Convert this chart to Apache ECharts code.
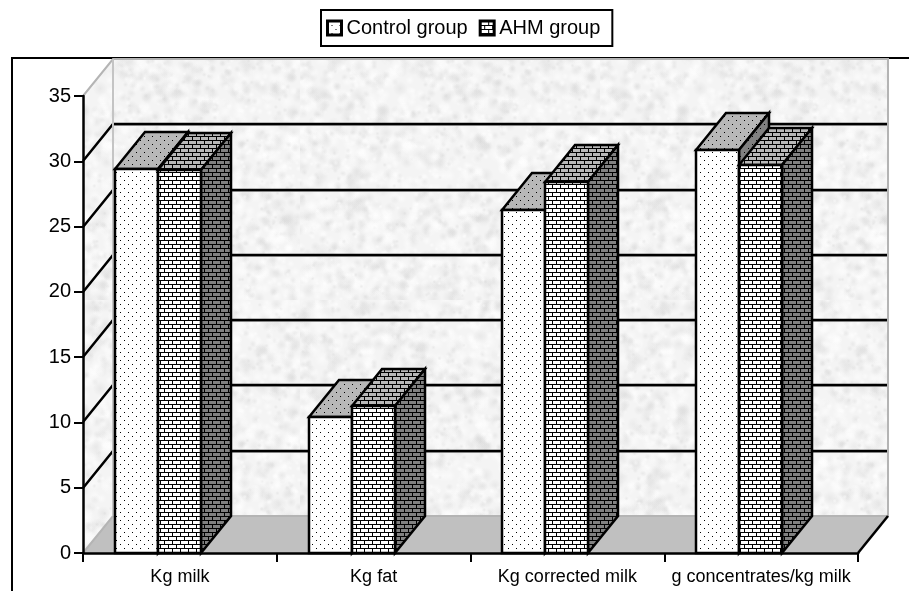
<!DOCTYPE html>
<html>
<head>
    <meta charset="utf-8" />
    <title>Chart</title>
    <script src="https://cdn.jsdelivr.net/npm/echarts@6/dist/echarts.min.js"></script>
    <style type="text/css">
        html, body { margin: 0; padding: 0; background: #fff; }
        #chart { width: 909px; height: 591px; }
    </style>
</head>
<body>
    <div id="chart"></div>
    <script>
        const categories = ['Kg milk', 'Kg fat', 'Kg corrected milk', 'g concentrates/kg milk'];
        const seriesNames = ['Control group', 'AHM group'];
        const controlGroup = [29.4, 10.4, 26.3, 30.9];
        const ahmGroup = [29.3, 11.25, 28.4, 29.7];
        const yTicks = [0, 5, 10, 15, 20, 25, 30, 35];

        // 3d depth of the fake perspective, in pixels
        const depthX = 30;
        const depthY = 37;
        const barRatio = 0.222;
        const barShift = -22;

        function makePattern(bg, kind) {
            const c = document.createElement('canvas');
            c.width = 8;
            c.height = 8;
            const ctx = c.getContext('2d');
            ctx.fillStyle = bg;
            ctx.fillRect(0, 0, 8, 8);
            ctx.fillStyle = '#000';
            if (kind === 'dots') {
                ctx.fillRect(0, 0, 1, 1);
                ctx.fillRect(4, 4, 1, 1);
            } else {
                ctx.fillRect(0, 0, 8, 1);
                ctx.fillRect(0, 1, 1, 3);
                ctx.fillRect(0, 4, 8, 1);
                ctx.fillRect(4, 5, 1, 3);
            }
            return { image: c, repeat: 'repeat' };
        }

        // stone texture of the walls
        function makeStone() {
            const c = document.createElement('canvas');
            c.width = 300;
            c.height = 300;
            const ctx = c.getContext('2d');
            ctx.fillStyle = '#f4f4f4';
            ctx.fillRect(0, 0, 300, 300);
            let seed = 12345;
            function next() {
                seed = (seed * 1103515245 + 12345) % 2147483648;
                return seed / 2147483648;
            }
            for (let i = 0; i < 2600; i++) {
                const x = next() * 300;
                const y = next() * 300;
                const r = 2 + next() * 6;
                const dark = next() > 0.55;
                const g = ctx.createRadialGradient(x, y, 0, x, y, r);
                g.addColorStop(0, dark ? 'rgba(215,215,215,0.4)' : 'rgba(255,255,255,0.55)');
                g.addColorStop(1, dark ? 'rgba(215,215,215,0)' : 'rgba(255,255,255,0)');
                ctx.fillStyle = g;
                ctx.fillRect(x - r, y - r, r * 2, r * 2);
            }
            return { image: c, repeat: 'repeat' };
        }

        const fills = [
            {
                front: makePattern('#ffffff', 'dots'),
                top: makePattern('#b8b8b8', 'dots'),
                side: makePattern('#808080', 'dots')
            },
            {
                front: makePattern('#ffffff', 'brick'),
                top: makePattern('#b8b8b8', 'brick'),
                side: makePattern('#808080', 'brick')
            }
        ];
        const stone = makeStone();

        function renderBackdrop(params, api) {
            const sys = params.coordSys;
            const left = sys.x;
            const right = sys.x + sys.width;
            const y0 = Math.round(api.coord([0, 0])[1]);
            const yMax = Math.round(api.coord([0, yTicks[yTicks.length - 1]])[1]);
            const children = [];

            // back wall
            children.push({
                type: 'rect',
                shape: { x: left + depthX, y: yMax - depthY, width: sys.width, height: y0 - yMax },
                style: { fill: stone }
            });
            // left wall
            children.push({
                type: 'polygon',
                shape: { points: [[left, y0], [left + depthX, y0 - depthY], [left + depthX, yMax - depthY], [left, yMax]] },
                style: { fill: stone }
            });
            // floor
            children.push({
                type: 'polygon',
                shape: { points: [[left, y0], [right, y0], [right + depthX, y0 - depthY], [left + depthX, y0 - depthY]] },
                style: { fill: '#c0c0c0' }
            });

            yTicks.slice(1, -1).forEach(function (t) {
                const y = Math.round(api.coord([0, t])[1]);
                children.push({
                    type: 'line',
                    shape: { x1: left + depthX, y1: y - depthY + 1.5, x2: right + depthX, y2: y - depthY + 1.5 },
                    style: { stroke: '#b0b0b0', lineWidth: 1 }
                });
                children.push({
                    type: 'polyline',
                    shape: { points: [[left, y], [left + depthX, y - depthY], [right + depthX, y - depthY]] },
                    style: { stroke: '#000', lineWidth: 2.5, fill: null }
                });
            });

            // grey edges of the walls, over the grid lines
            children.push({
                type: 'polyline',
                shape: { points: [[left, yMax], [left + depthX, yMax - depthY], [right + depthX, yMax - depthY], [right + depthX, y0 - depthY], [left + depthX, y0 - depthY], [left, y0]] },
                style: { stroke: '#b4b4b4', lineWidth: 2, fill: null }
            });
            children.push({
                type: 'line',
                shape: { x1: left + depthX, y1: yMax - depthY, x2: left + depthX, y2: y0 - depthY },
                style: { stroke: '#c4c4c4', lineWidth: 2 }
            });
            children.push({
                type: 'line',
                shape: { x1: right, y1: y0, x2: right + depthX, y2: y0 - depthY },
                style: { stroke: '#000', lineWidth: 2.5 }
            });
            return { type: 'group', children: children };
        }

        function renderBar(params, api) {
            const idx = params.seriesIndex - 1;
            const center = api.coord([api.value(0), 0]);
            const band = api.size([1, 0])[0];
            const w = Math.round(band * barRatio);
            const x1 = Math.round(center[0]) + barShift + (idx - 1) * w;
            const x2 = x1 + w;
            const yb = Math.round(center[1]);
            const yt = Math.round(api.coord([api.value(0), api.value(1)])[1]);
            const border = { stroke: '#000', lineWidth: 2.5, lineJoin: 'miter' };
            const f = fills[idx];
            return {
                type: 'group',
                children: [
                    {
                        type: 'polygon',
                        shape: { points: [[x1, yt], [x1 + depthX, yt - depthY], [x2 + depthX, yt - depthY], [x2, yt]] },
                        style: Object.assign({ fill: f.top }, border)
                    },
                    {
                        type: 'polygon',
                        shape: { points: [[x2, yt], [x2 + depthX, yt - depthY], [x2 + depthX, yb - depthY], [x2, yb]] },
                        style: Object.assign({ fill: f.side }, border)
                    },
                    {
                        type: 'rect',
                        shape: { x: x1, y: yt, width: w, height: yb - yt },
                        style: Object.assign({ fill: f.front }, border)
                    }
                ]
            };
        }

        const myChart = echarts.init(document.getElementById('chart'), null, { renderer: 'canvas' });

        const option = {
            animation: false,
            textStyle: { fontFamily: 'Liberation Sans' },
            graphic: [
                {
                    type: 'polyline',
                    shape: { points: [[12, 591], [12, 58], [909, 58]] },
                    style: { stroke: '#000', lineWidth: 2, fill: null }
                }
            ],
            legend: {
                left: 321,
                top: 10,
                orient: 'horizontal',
                borderColor: '#000',
                borderWidth: 2,
                borderRadius: 0,
                padding: [8, 12, 8, 5],
                itemWidth: 14,
                itemHeight: 14,
                itemGap: 11,
                textStyle: { color: '#000', fontSize: 20, fontFamily: 'Liberation Sans' },
                data: [
                    {
                        name: seriesNames[0],
                        icon: 'rect',
                        itemStyle: { color: fills[0].front, borderColor: '#000', borderWidth: 3 }
                    },
                    {
                        name: seriesNames[1],
                        icon: 'rect',
                        itemStyle: { color: fills[1].front, borderColor: '#000', borderWidth: 3 }
                    }
                ]
            },
            grid: { left: 83, right: 51, top: 96, bottom: 38 },
            xAxis: {
                type: 'category',
                data: categories,
                z: 10,
                axisLine: { lineStyle: { color: '#000', width: 2.5 } },
                axisTick: { show: true, length: 9, lineStyle: { color: '#000', width: 2 } },
                axisLabel: { interval: 0, color: '#000', fontSize: 18, margin: 15, fontFamily: 'Liberation Sans' },
                splitLine: { show: false }
            },
            yAxis: {
                type: 'value',
                min: 0,
                max: 35,
                interval: 5,
                z: 10,
                axisLine: { show: true, lineStyle: { color: '#000', width: 2.5 } },
                axisTick: { show: true, length: 9, lineStyle: { color: '#000', width: 2 } },
                axisLabel: { color: '#000', fontSize: 20, margin: 12, fontFamily: 'Liberation Sans' },
                splitLine: { show: false }
            },
            series: [
                {
                    type: 'custom',
                    name: 'backdrop',
                    renderItem: renderBackdrop,
                    data: [[0, 0]],
                    encode: { x: 0, y: 1 },
                    silent: true,
                    z: 1
                },
                {
                    type: 'custom',
                    name: seriesNames[0],
                    renderItem: renderBar,
                    data: controlGroup.map(function (v, i) { return [i, v]; }),
                    encode: { x: 0, y: 1 },
                    z: 2
                },
                {
                    type: 'custom',
                    name: seriesNames[1],
                    renderItem: renderBar,
                    data: ahmGroup.map(function (v, i) { return [i, v]; }),
                    encode: { x: 0, y: 1 },
                    z: 3
                }
            ]
        };

        myChart.setOption(option);
    </script>
</body>
</html>
